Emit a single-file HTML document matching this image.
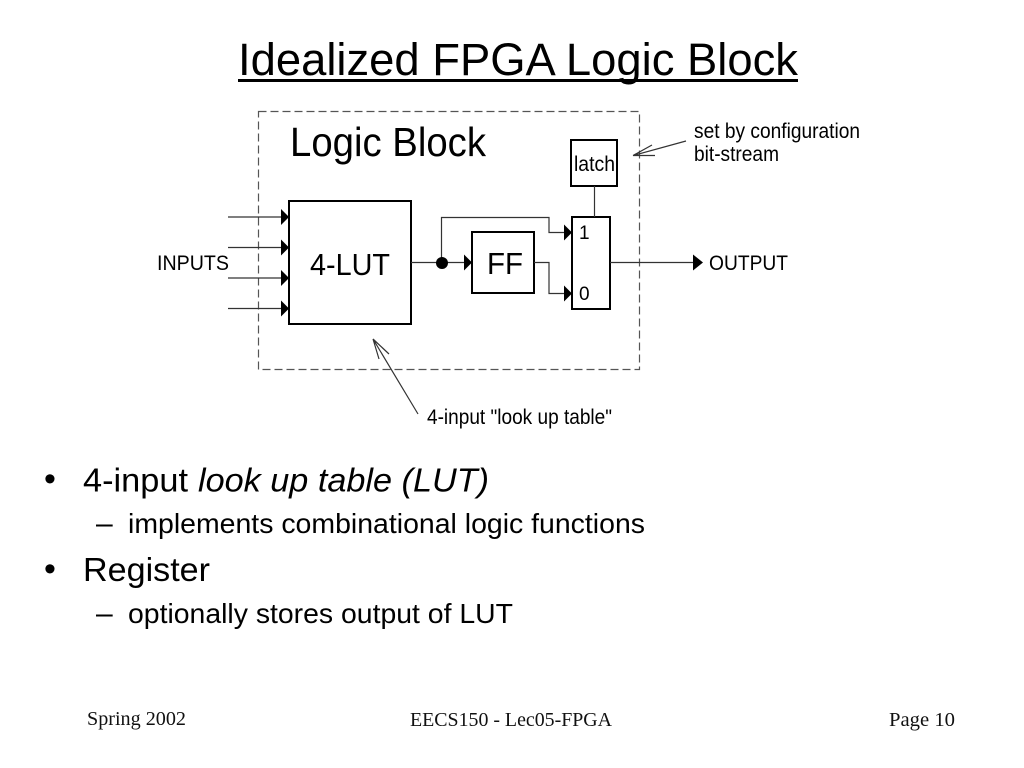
<!DOCTYPE html>
<html>
<head>
<meta charset="utf-8">
<style>
html,body{margin:0;padding:0;background:#fff;}
svg{display:block;}
text{fill:#000;font-family:"Liberation Sans",sans-serif;}
.serif{font-family:"Liberation Serif",serif;font-size:20px;fill:#111;}
</style>
</head>
<body>
<svg width="1024" height="768" viewBox="0 0 1024 768" xmlns="http://www.w3.org/2000/svg">
<rect width="1024" height="768" fill="#fff"/>
<text x="238" y="75" font-size="45" textLength="560" lengthAdjust="spacingAndGlyphs">Idealized FPGA Logic Block</text>
<rect x="238" y="79" width="560" height="3" fill="#000"/>

<rect x="258.500" y="111.500" width="381" height="258" fill="none" stroke="#555" stroke-width="1.200" stroke-dasharray="8 4"/>

<text x="290" y="156" font-size="41" textLength="196" lengthAdjust="spacingAndGlyphs">Logic Block</text>

<g fill="none" stroke="#000" stroke-width="2">
<rect x="289" y="201" width="122" height="123"/>
<rect x="472" y="232" width="62" height="61"/>
<rect x="572" y="217" width="38" height="92"/>
<rect x="571" y="140" width="46" height="46"/>
</g>

<g fill="none" stroke="#333" stroke-width="1.200">
<path d="M228 217H284M228 247.500H284M228 278H284M228 308.500H284"/>
<path d="M411 262.500H466"/>
<path d="M441.500 262V217.500H549V232.500H566"/>
<path d="M534 262.500H549V293.500H566"/>
<path d="M594.500 186V217"/>
<path d="M610 262.500H694"/>
<path d="M686 141L633 155.500M633 155.500L652 145M633 155.500L655 155.500"/>
<path d="M418 414L373 339M373 339L379 359M373 339L389 354"/>
</g>

<g fill="#000">
<path d="M281 209L289 217L281 225Z"/>
<path d="M281 239.500L289 247.500L281 255.500Z"/>
<path d="M281 270L289 278L281 286Z"/>
<path d="M281 300.500L289 308.500L281 316.500Z"/>
<path d="M464 254.500L472 262.500L464 270.500Z"/>
<path d="M564 224.500L572 232.500L564 240.500Z"/>
<path d="M564 285.500L572 293.500L564 301.500Z"/>
<path d="M693 254.500L703 262.500L693 270.500Z"/>
<circle cx="442" cy="263" r="6"/>
</g>

<text x="157" y="270" font-size="21" textLength="72" lengthAdjust="spacingAndGlyphs">INPUTS</text>
<text x="310" y="275" font-size="31" textLength="80" lengthAdjust="spacingAndGlyphs">4-LUT</text>
<text x="487" y="274" font-size="31" textLength="36" lengthAdjust="spacingAndGlyphs">FF</text>
<text x="574" y="171" font-size="21" textLength="41" lengthAdjust="spacingAndGlyphs">latch</text>
<text x="579" y="239" font-size="19">1</text>
<text x="579" y="300" font-size="19">0</text>
<text x="709" y="270" font-size="21" textLength="79" lengthAdjust="spacingAndGlyphs">OUTPUT</text>
<text x="694" y="138" font-size="21" textLength="166" lengthAdjust="spacingAndGlyphs">set by configuration</text>
<text x="694" y="161" font-size="21" textLength="85" lengthAdjust="spacingAndGlyphs">bit-stream</text>
<text x="427" y="424" font-size="21" textLength="185" lengthAdjust="spacingAndGlyphs">4-input "look up table"</text>

<text x="44" y="490" font-size="34">•</text>
<text x="83" y="491.500" font-size="33.500" textLength="105" lengthAdjust="spacingAndGlyphs">4-input</text>
<text x="198" y="491.500" font-size="33.500" font-style="italic" textLength="291" lengthAdjust="spacingAndGlyphs">look up table (LUT)</text>
<text x="96" y="533" font-size="30">–</text>
<text x="128" y="533" font-size="27.500" textLength="517" lengthAdjust="spacingAndGlyphs">implements combinational logic functions</text>
<text x="44" y="580" font-size="34">•</text>
<text x="83" y="581" font-size="33.500" textLength="127" lengthAdjust="spacingAndGlyphs">Register</text>
<text x="96" y="623" font-size="30">–</text>
<text x="128" y="623" font-size="27.500" textLength="385" lengthAdjust="spacingAndGlyphs">optionally stores output of LUT</text>

<text class="serif" x="87" y="725" textLength="99" lengthAdjust="spacingAndGlyphs">Spring 2002</text>
<text class="serif" x="410" y="726" textLength="202" lengthAdjust="spacingAndGlyphs">EECS150 - Lec05-FPGA</text>
<text class="serif" x="889" y="726" textLength="66" lengthAdjust="spacingAndGlyphs">Page 10</text>
</svg>
</body>
</html>
